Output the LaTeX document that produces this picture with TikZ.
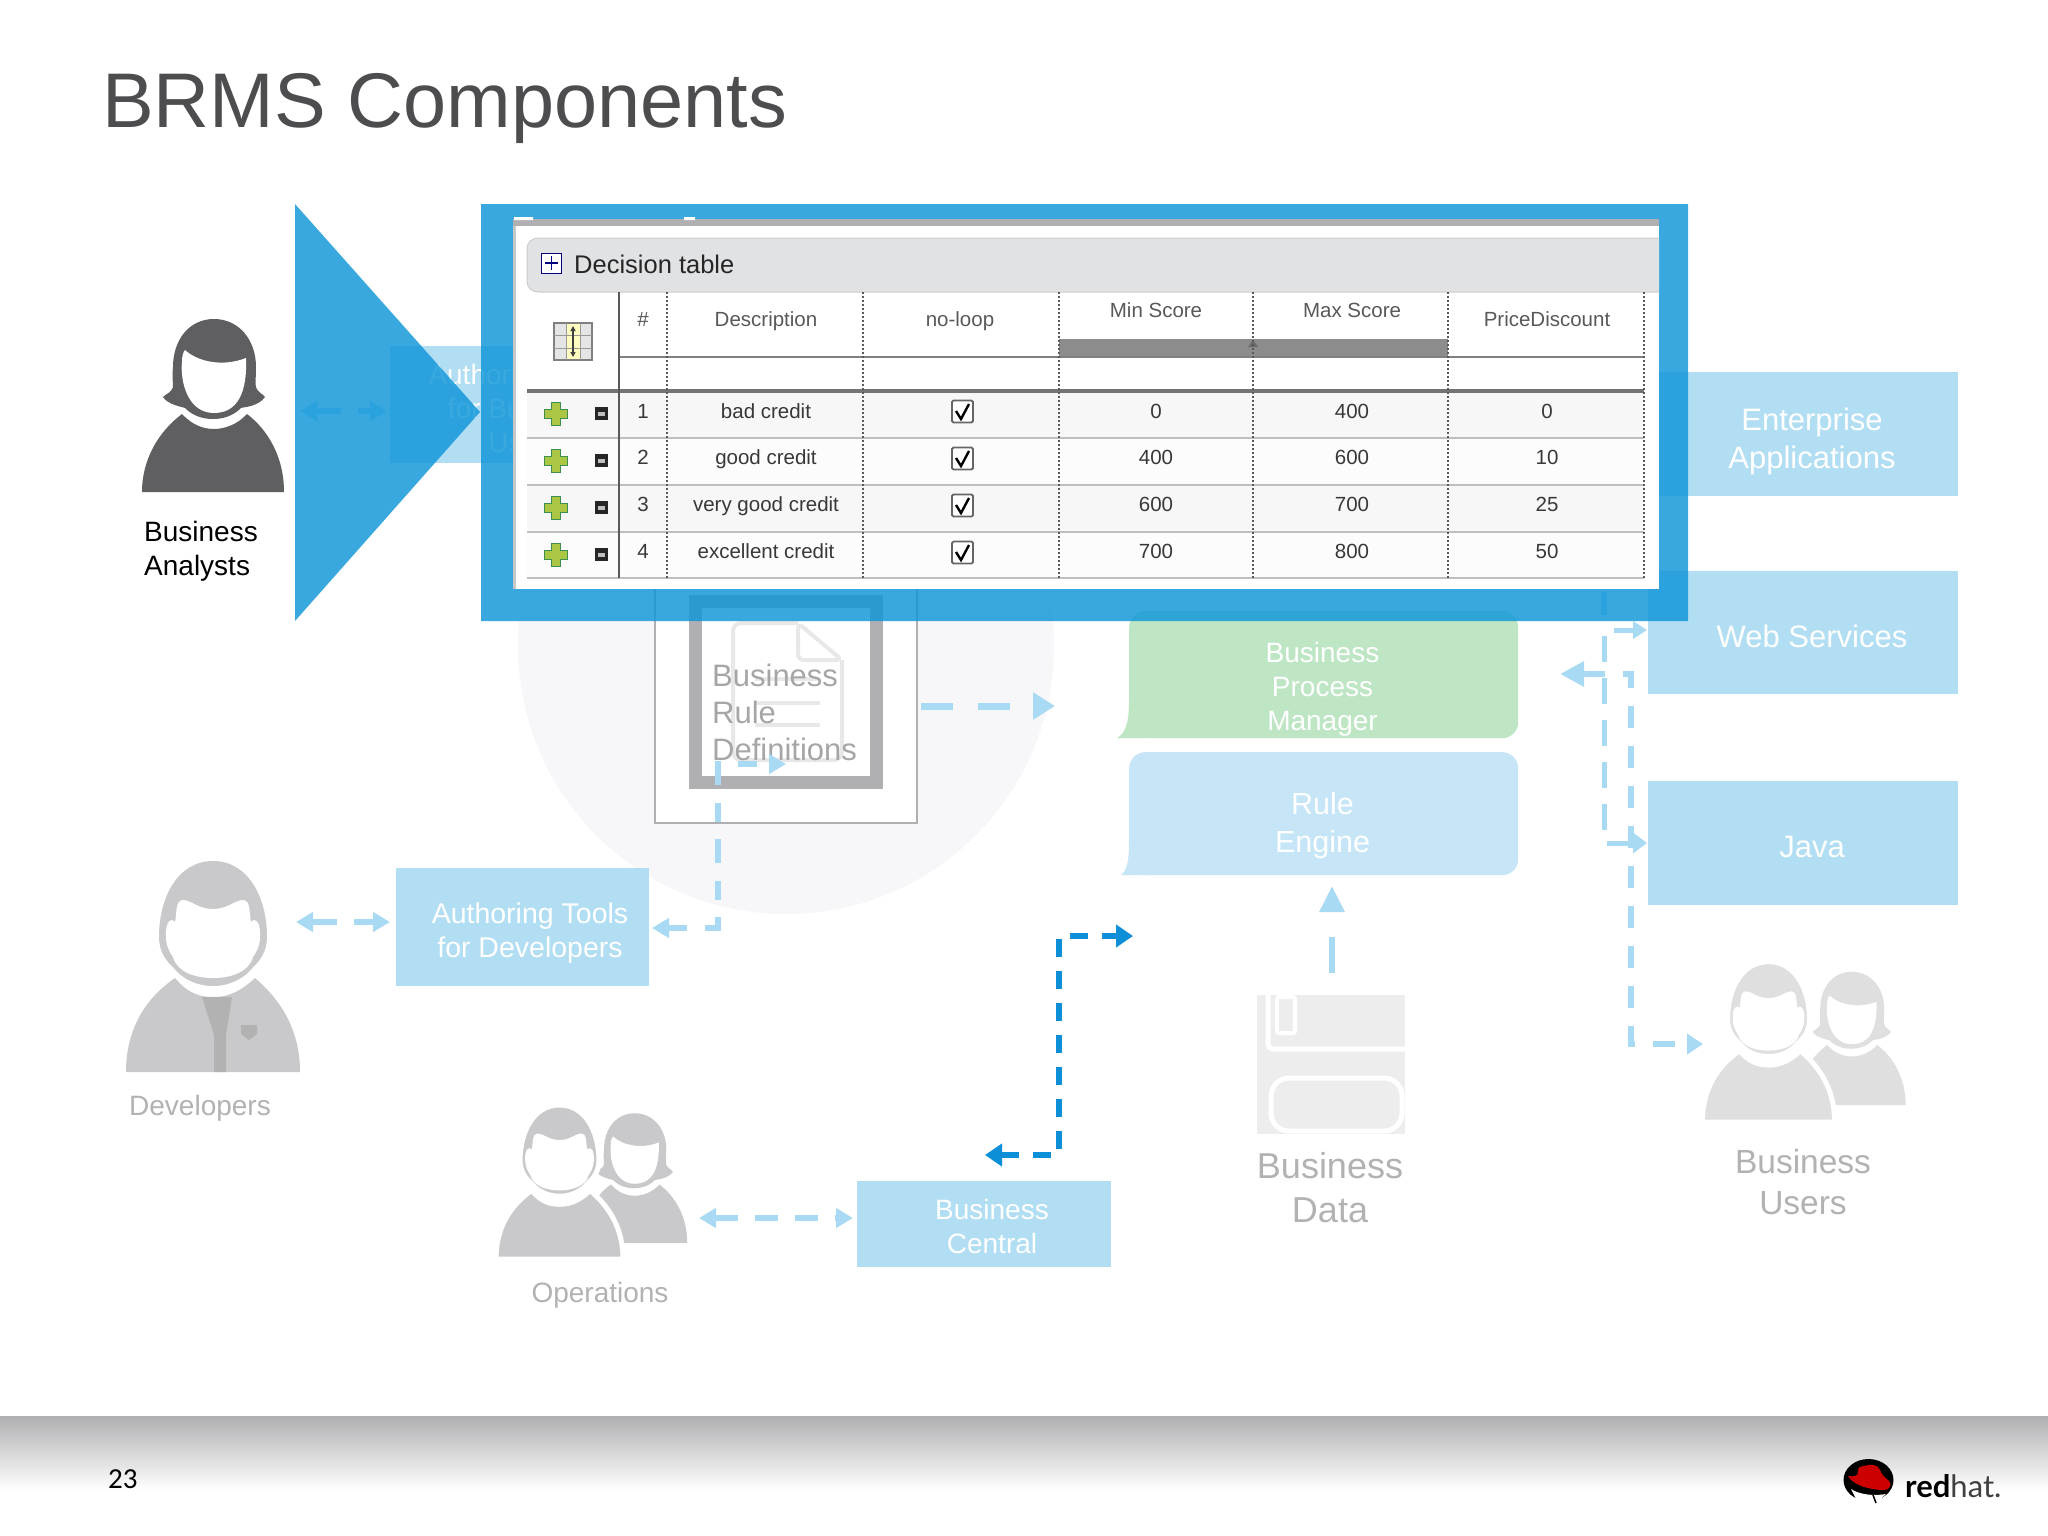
\documentclass[tikz,border=0pt]{standalone}
\usepackage{fontspec}
\setmainfont{Liberation Sans}
\newfontfamily\pagefont{Carlito}
\newfontfamily\logofont{Lato}
\usetikzlibrary{arrows.meta}
\definecolor{titlecol}{HTML}{4D4D4F}
\definecolor{boxblue}{HTML}{B2DEF3}
\definecolor{engblue}{HTML}{C6E6F7}
\definecolor{bpmgreen}{HTML}{BEE6C5}
\definecolor{connlight}{HTML}{A9DAF3}
\definecolor{conndark}{HTML}{0C8FD6}
\definecolor{frameblue}{HTML}{0E96D9}
\definecolor{pale}{HTML}{F7F6F8}
\definecolor{iconA}{HTML}{5F5E60}
\definecolor{iconB}{HTML}{C9C9CB}
\definecolor{iconC}{HTML}{DFDFE0}
\definecolor{greyline}{HTML}{B0B0B2}
\definecolor{greytext}{HTML}{B2B2B4}
\definecolor{cellA}{HTML}{F7F7F8}
\definecolor{cellB}{HTML}{FCFCFD}
\definecolor{hdrgrey}{HTML}{E1E2E4}
\definecolor{plusfill}{HTML}{ABC645}
\definecolor{plusedge}{HTML}{3E8F4E}
\tikzset{
  box/.style={fill=boxblue,inner sep=0pt,outer sep=0pt,anchor=north west},
  boxtext/.style={text=white,align=center,inner sep=0pt,font=\fontsize{28}{34}\selectfont},
  greylabel/.style={text=greytext,align=center,inner sep=0pt},
  cell/.style={anchor=base,inner sep=0pt,text=black!78,font=\fontsize{20.5}{24}\selectfont},
  head/.style={anchor=base,inner sep=0pt,text=black!65,font=\fontsize{20.5}{24}\selectfont},
  lconn/.style={draw=connlight,line width=6pt,dash pattern=on 23pt off 17pt},
  ltip/.tip={Triangle[length=17pt,width=19pt]},
  dconn/.style={draw=conndark,line width=6pt,dash pattern=on 18pt off 14pt},
  dtip/.tip={Triangle[length=17pt,width=22pt]},
  dotv/.style={draw=black!65,line width=1.2pt,dash pattern=on 2pt off 2pt},
  rowline/.style={draw=black!25,line width=2pt}
}
\newcommand{\manicon}[5]{%
  \begin{scope}[shift={(#1,#2)},scale=#3]
    \path[fill=#4,#5] (-87,0) .. controls (-87,-40) and (-70,-72) .. (-38,-94)
      .. controls (-25,-78) and (-12,-75) .. (0,-75) .. controls (12,-75) and (25,-78) .. (42,-94)
      .. controls (70,-70) and (87,-40) .. (87,0) -- cycle;
    \path[fill=#4,#5] (0,-211) .. controls (35,-211) and (54,-175) .. (54,-135)
      .. controls (54,-120) and (46,-110) .. (40,-105) .. controls (30,-92) and (15,-86) .. (0,-86)
      .. controls (-15,-86) and (-30,-92) .. (-40,-105) .. controls (-46,-110) and (-54,-120) .. (-54,-135)
      .. controls (-54,-175) and (-35,-211) .. (0,-211) -- cycle;
    \fill[white] (-30,-172) .. controls (-22,-172) and (-15,-163) .. (0,-163)
      .. controls (15,-163) and (22,-172) .. (30,-172) .. controls (38,-172) and (36,-158) .. (38,-150)
      .. controls (42,-155) and (48,-150) .. (47,-135) .. controls (47,-125) and (42,-118) .. (40,-115)
      .. controls (36,-100) and (18,-94) .. (0,-94) .. controls (-18,-94) and (-36,-100) .. (-40,-115)
      .. controls (-42,-118) and (-47,-125) .. (-47,-135) .. controls (-48,-150) and (-42,-155) .. (-38,-150)
      .. controls (-36,-158) and (-38,-172) .. (-30,-172) -- cycle;
  \end{scope}}
\newcommand{\womanicon}[4]{%
  \begin{scope}[shift={(#1,#2)},scale=#3]
    \fill[#4] (-71,0) .. controls (-71,-32) and (-55,-60) .. (-31,-78)
      .. controls (-20,-66) and (-8,-63) .. (1,-63) .. controls (12,-63) and (25,-68) .. (34,-78)
      .. controls (55,-62) and (71,-35) .. (71,0) -- cycle;
    \fill[#4] (1,-173) .. controls (26,-173) and (43,-152) .. (43,-125)
      .. controls (43,-115) and (42,-107) .. (43,-105) .. controls (44,-100) and (50,-98) .. (52,-95)
      .. controls (45,-85) and (30,-85) .. (28,-84) .. controls (20,-76) and (10,-73) .. (0,-73)
      .. controls (-10,-73) and (-20,-76) .. (-28,-84) .. controls (-30,-85) and (-45,-87) .. (-50,-95)
      .. controls (-47,-98) and (-41,-100) .. (-40,-105) .. controls (-40,-110) and (-41,-115) .. (-40,-125)
      .. controls (-40,-152) and (-24,-173) .. (1,-173) -- cycle;
    \fill[white] (-28,-142) .. controls (-15,-130) and (10,-125) .. (33,-134)
      .. controls (34,-110) and (30,-79) .. (1,-79) .. controls (-25,-79) and (-33,-110) .. (-31,-130)
      .. controls (-31,-135) and (-30,-140) .. (-28,-142) -- cycle;
  \end{scope}}
\begin{document}
\begin{tikzpicture}[x=1pt,y=-1pt]
\useasboundingbox (0,0) rectangle (2048,1535);
\fill[white] (0,0) rectangle (2048,1535);
% footer band
\shade[top color=greyline,bottom color=white] (0,1416) rectangle (2048,1490);
% title and page number
\node[anchor=base west,inner sep=0pt,text=titlecol,font=\fontsize{77.5}{80}\selectfont] (title) at (102,127) {BRMS Components};
\node[anchor=base west,inner sep=0pt,text=black,font=\pagefont\fontsize{29}{32}\selectfont] (page) at (108,1488) {23};
% pale circle
\fill[pale] (786,646) circle (268);
% authoring tool for business users (behind the blue shapes)
\node[box,minimum width=255pt,minimum height=117pt] (authbu) at (390,346) {};
\node[boxtext] (authbutxt) at (525,408) {Authoring Tools\\[0pt]for Business\\[0pt]Users};
% rule definitions
\draw[greyline,line width=2.5pt,fill=white] (655,500) rectangle (917,823);
\draw[draw=black!9,line width=4pt,rounded corners=8pt] (798,623) -- (733,623) -- (733,760) -- (842,760) -- (842,660);
\draw[draw=black!9,line width=4pt,rounded corners=6pt] (798,623) -- (798,660) -- (842,660) -- cycle;
\draw[black!9,line width=4pt] (755,679) -- (820,679) (755,703) -- (820,703) (755,725) -- (820,725);
\draw[greyline,line width=13pt] (695.5,601.5) rectangle (876.5,782.5);
\node[anchor=base west,inner sep=0pt,text=black!35,font=\fontsize{31}{37}\selectfont] (brd1) at (712,686) {Business};
\node[anchor=base west,inner sep=0pt,text=black!35,font=\fontsize{31}{37}\selectfont] (brd2) at (712,723) {Rule};
\node[anchor=base west,inner sep=0pt,text=black!35,font=\fontsize{31}{37}\selectfont] (brd3) at (712,760) {Definitions};
% engine boxes
\fill[bpmgreen] (1129,700) .. controls (1129,725) and (1125,733) .. (1117,738) -- (1150,738) -- (1150,700) -- cycle;
\node[fill=bpmgreen,rounded corners=16pt,inner sep=0pt,anchor=north west,minimum width=389pt,minimum height=127pt] (bpm) at (1129,611) {};
\fill[engblue] (1129,840) .. controls (1129,862) and (1127,870) .. (1121,875) -- (1150,875) -- (1150,840) -- cycle;
\node[fill=engblue,rounded corners=16pt,inner sep=0pt,anchor=north west,minimum width=389pt,minimum height=123pt] (engine) at (1129,752) {};
\node[boxtext] (bpmtxt) at (1322.5,689.5) {Business\\Process\\Manager};
\node[boxtext,font=\fontsize{30.5}{38}\selectfont] (enginetxt) at (1322.5,826) {Rule\\Engine};
% right boxes
\node[box,minimum width=310pt,minimum height=124pt] (ent) at (1648,372) {};
\node[box,minimum width=310pt,minimum height=123pt] (web) at (1648,571) {};
\node[box,minimum width=310pt,minimum height=124pt] (java) at (1648,781) {};
\node[boxtext,font=\fontsize{31}{38}\selectfont] (enttxt) at (1812,441) {Enterprise\\Applications};
\node[boxtext,font=\fontsize{31}{38}\selectfont] (webtxt) at (1812,636) {Web Services};
\node[boxtext,font=\fontsize{31}{38}\selectfont] (javatxt) at (1812,847) {Java};
% left boxes
\node[box,minimum width=253pt,minimum height=118pt] (authdev) at (396,868) {};
\node[boxtext,font=\fontsize{28.5}{34}\selectfont] (authdevtxt) at (530,933) {Authoring Tools\\for Developers};
\node[box,minimum width=254pt,minimum height=86pt] (central) at (857,1181) {};
\node[boxtext] (centraltxt) at (992,1226) {Business\\Central};
% free ends
\coordinate (analystEnd) at (300,411);
\coordinate (authbuW) at (387,411);
\coordinate (devEnd) at (296,922);
\coordinate (authdevW) at (390,922);
\coordinate (opsEnd) at (699,1218);
\coordinate (centralW) at (853,1218);
\coordinate (brdE) at (921,706);
\coordinate (bpmW) at (1055,706);
\coordinate (authdevE) at (652,928);
\coordinate (brdIn) at (786,764);
\coordinate (dataTop) at (1332,973);
\coordinate (engineS) at (1332,886);
\coordinate (webA) at (1647,630);
\coordinate (javaA) at (1647,843);
\coordinate (bpmE) at (1560,674);
\coordinate (usersEnd) at (1703,1044);
\coordinate (centralN) at (985,1155);
\coordinate (engineSW) at (1133,936);
\coordinate (upA) at (1604,592);
\coordinate (upB) at (1604,621);
% connectors
\draw[lconn,dash pattern=on 25pt off 17pt,ltip-ltip] (analystEnd) -- (authbuW);
\draw[lconn,dash pattern=on 25pt off 17pt,ltip-ltip] (devEnd) -- (authdevW);
\draw[lconn,ltip-ltip] (opsEnd) -- (centralW);
\draw[lconn,line width=7pt,dash pattern=on 32pt off 25pt,-{Triangle[length=22pt,width=26pt]}] (brdE) -- (bpmW);
\draw[lconn,dash pattern=on 19pt off 18pt on 24pt off 17pt,ltip-ltip] (authdevE) -- (718,928) -- (718,764) -- (brdIn);
\draw[lconn,dash pattern=on 36pt off 25pt,-{Triangle[length=26pt,width=24pt]}] (dataTop) -- (engineS);
\draw[lconn] (upA) -- (upB);
\draw[lconn,line width=5pt,dash phase=6pt,dash pattern=on 26pt off 16pt,{Triangle[length=14pt,width=17pt]}-{Triangle[length=14pt,width=20pt]}] (webA) -- (1604,630) -- (1604,843) -- (javaA);
\draw[lconn,dash pattern=on 22pt off 18pt,{Triangle[length=24pt,width=24pt]}-{Triangle[length=16pt,width=20pt]}] (bpmE) -- (1631,674) -- (1631,1044) -- (usersEnd);
\draw[dconn,dtip-dtip] (centralN) -- (1059,1155) -- (1059,936) -- (engineSW);
% blue shapes laid over the slide
\fill[frameblue,fill opacity=0.82] (295,204) -- (480,412) -- (295,621) -- cycle;
\fill[frameblue,fill opacity=0.82,even odd rule] (481,204) rectangle (1688,621) (513,219) rectangle (1659,589);
% panel
\fill[white] (513,219) rectangle (1659,589);
\fill[greyline] (513,219) rectangle (1659,226);
\fill[white] (514,217) rectangle (533,220) (684,217) rectangle (695,220);
\fill[black!22] (513,226) rectangle (516,589);
% decision table
\begin{scope}
\path[fill=hdrgrey,draw=black!20,line width=1pt] (1659,238) -- (540,238) .. controls (531,238) and (527,242) .. (527,250) -- (527,280) .. controls (527,288) and (531,292) .. (540,292) -- (1659,292);
\node[draw=blue!50!black,fill=white,line width=1pt,minimum size=20pt,inner sep=0pt] (dtplus) at (551.5,263) {};
\draw[blue!50!black,line width=1.5pt] (545,263) -- (558,263) (551.5,256) -- (551.5,270);
\node[anchor=base west,inner sep=0pt,text=black!85,font=\fontsize{25.5}{30}\selectfont] (dttitle) at (574,273) {Decision table};
% rows
\fill[cellA] (527,392) rectangle (1644,438);
\fill[cellB] (527,438) rectangle (1644,485);
\fill[cellA] (527,485) rectangle (1644,532);
\fill[cellB] (527,532) rectangle (1644,578);
\fill[black!45] (1059,339) rectangle (1448,356);
\fill[black!58] (1253,340) -- (1248,347) -- (1258,347) -- cycle;
\draw[black!50,line width=2pt] (619,357) -- (1644,357);
\foreach \yy in {438,485,532,578} \draw[rowline] (527,\yy) -- (1644,\yy);
\draw[black!55,line width=3.5pt] (527,391) -- (1644,391);
\draw[black!65,line width=1.4pt] (619,292) -- (619,578);
\foreach \xx in {667,863,1059,1253,1448,1644} \draw[dotv] (\xx,292) -- (\xx,578);
% grid icon
\fill[black!10] (554,323) rectangle (592,360);
\fill[yellow!25!white] (566,323) rectangle (580,360);
\draw[black!50,line width=1.5pt] (554,323) rectangle (592,360);
\draw[black!40,line width=1pt] (554,335) -- (592,335) (554,348) -- (592,348) (566,323) -- (566,360) (580,323) -- (580,360);
\draw[black!75,line width=1.5pt,{Triangle[length=5pt,width=5pt]}-{Triangle[length=5pt,width=5pt]}] (573,326) -- (573,357);
% headers
\node[head] (hnum) at (643,326) {\#};
\node[head] (hdesc) at (766,326) {Description};
\node[head] (hloop) at (960,326) {no-loop};
\node[head] (hmin) at (1156,317) {Min Score};
\node[head] (hmax) at (1352,317) {Max Score};
\node[head] (hprice) at (1547,326) {PriceDiscount};
% rows content
\foreach \i/\base/\cy/\dsc/\mn/\mx/\pd in {1/418/414/bad credit/0/400/0,2/464.5/461/good credit/400/600/10,3/511/508/very good credit/600/700/25,4/558/555/excellent credit/700/800/50}{
  \draw[draw=plusedge,line width=1pt,fill=plusfill] (551.5,\cy-11.5) -- (560.5,\cy-11.5) -- (560.5,\cy-4.5) -- (567.5,\cy-4.5) -- (567.5,\cy+4.5) -- (560.5,\cy+4.5) -- (560.5,\cy+11.5) -- (551.5,\cy+11.5) -- (551.5,\cy+4.5) -- (544.5,\cy+4.5) -- (544.5,\cy-4.5) -- (551.5,\cy-4.5) -- cycle;
  \fill[black!85] (595,\cy-7) rectangle (608,\cy+6);
  \fill[black!25] (598,\cy-2.5) rectangle (605,\cy+1.5);
  \node[cell] (num\i) at (643,\base) {\i};
  \node[cell] (desc\i) at (766,\base) {\dsc};
  \node[draw=black!60,fill=white,line width=1.8pt,rounded corners=1.5pt,minimum width=21pt,minimum height=22pt,inner sep=0pt] (chk\i) at (962.5,\cy-2.5) {};
  \draw[black,line width=2.4pt] (956,\cy-3) -- (961,\cy+5) -- (969,\cy-10);
  \node[cell] (min\i) at (1156,\base) {\mn};
  \node[cell] (max\i) at (1352,\base) {\mx};
  \node[cell] (pd\i) at (1547,\base) {\pd};
}
\end{scope}
% business analyst
\womanicon{213}{492}{1}{iconA}
\node[anchor=base west,inner sep=0pt,text=black,font=\fontsize{28}{34}\selectfont] (ba1) at (144,541) {Business};
\node[anchor=base west,inner sep=0pt,text=black,font=\fontsize{28}{34}\selectfont] (ba2) at (144,575) {Analysts};
% developer
\manicon{213}{1072}{1}{iconB}{}
\fill[black!30] (202,997) -- (232,997) -- (226,1035) -- (226,1072) -- (214,1072) -- (214,1035) -- cycle;
\fill[black!30] (241,1025) -- (257,1025) -- (257,1034) -- (249,1040) -- (241,1034) -- cycle;
\node[greylabel,font=\fontsize{28}{32}\selectfont] (devlabel) at (200,1108) {Developers};
% operations
\womanicon{634}{1243}{0.75}{iconB}
\manicon{559.5}{1259}{0.73}{iconB}{draw=white,line width=5pt}
\node[greylabel,font=\fontsize{28}{32}\selectfont] (opslabel) at (600,1295) {Operations};
% business users
\womanicon{1851}{1105}{0.77}{iconC}
\manicon{1768.5}{1122}{0.76}{iconC}{draw=white,line width=5pt}
\node[greylabel,font=\fontsize{33.5}{41}\selectfont] (userslabel) at (1803,1182) {Business\\Users};
% business data
\fill[black!7] (1257,995) rectangle (1405,1134);
\draw[white,line width=5pt,rounded corners=5pt] (1268,995) -- (1268,1049) -- (1405,1049);
\draw[white,line width=4pt,rounded corners=2pt] (1277,997) rectangle (1295,1033);
\draw[white,line width=5pt,rounded corners=18pt] (1271,1078) rectangle (1402,1131);
\node[greylabel,font=\fontsize{36}{44}\selectfont] (datalabel) at (1330,1188) {Business\\Data};
% logo
\fill[black] (1868.5,1480) ellipse (25 and 21);
\fill[white] (1851,1489) .. controls (1860,1495) and (1875,1496) .. (1886,1494) -- (1876,1503) -- (1858,1503) -- cycle;
\draw[black,line width=1.5pt] (1873,1495) -- (1876,1503);
\fill[red!80!black] (1848,1476) .. controls (1852,1484) and (1868,1490) .. (1884,1490) .. controls (1890,1490) and (1892,1484) .. (1889,1481) .. controls (1885,1477) and (1882,1476) .. (1880,1470) .. controls (1878,1464) and (1870,1464) .. (1864,1466) .. controls (1860,1467) and (1858,1466) .. (1858,1472) .. controls (1858,1476) and (1854,1477) .. (1848,1476) -- cycle;
\node[anchor=base west,inner sep=0pt,text=black!75,font=\logofont\fontsize{31}{36}\selectfont] (logotxt) at (1905,1497) {\textcolor{black}{\textbf{red}}hat.};
\end{tikzpicture}
\end{document}
